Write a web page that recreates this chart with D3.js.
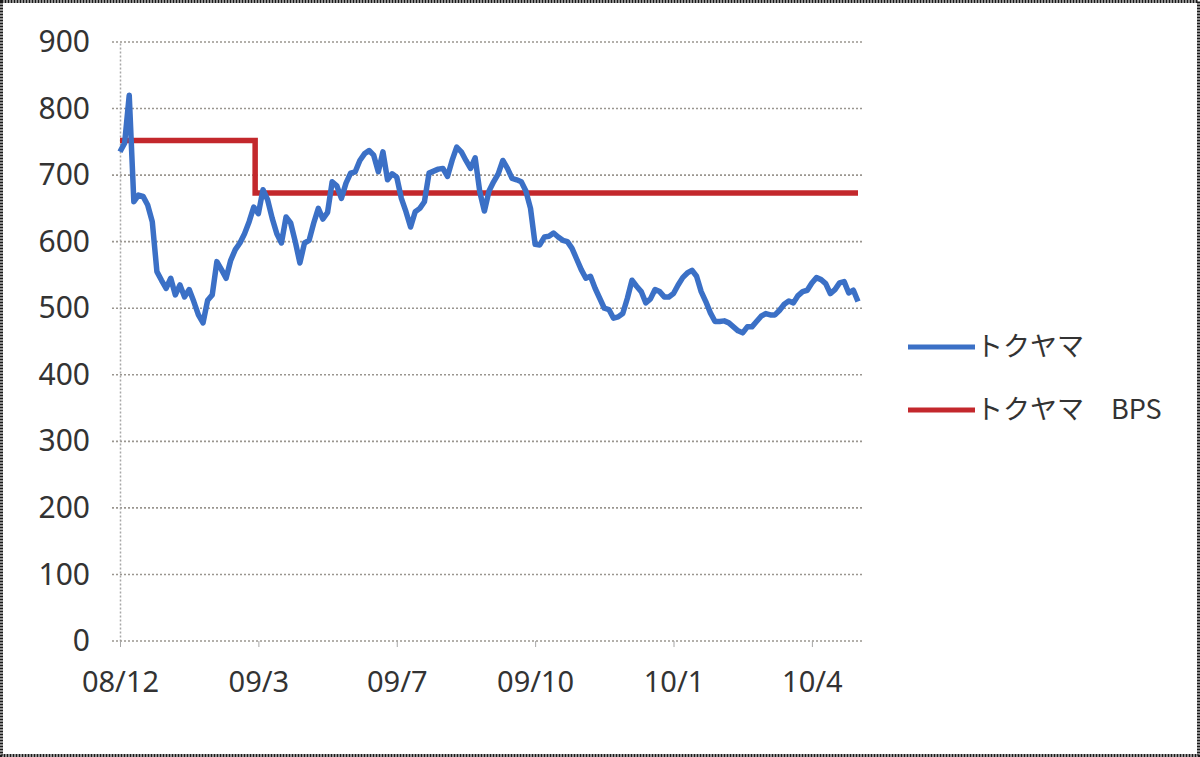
<html>
    <head>
        <meta charset="utf-8">
        <script src="https://d3js.org/d3.v7.min.js"></script>
        <style>
            body{ margin:0; background:#fff; }
            #svg{ background-color:#fff; display:block; }
            text{ font-family:"Noto Sans","Noto Sans CJK JP",sans-serif; fill:#333; }
        </style>
    </head>
    <body>
        <svg id="svg" width="1200" height="757"></svg>
        <script>
            // daily-ish price, one value per step on the category axis
            var price = [735,748,820,660,670,668,655,630,555,542,
                         530,545,520,535,517,528,510,490,478,512,
                         520,570,558,545,572,588,598,612,630,652,
                         642,678,663,635,612,598,637,628,600,568,
                         598,602,628,650,634,644,690,684,665,688,
                         703,705,722,732,737,730,705,735,693,702,
                         697,665,645,622,645,650,660,703,706,709,
                         710,698,722,742,735,722,710,726,675,646,
                         676,690,702,722,710,695,693,690,676,650,
                         596,595,607,608,613,607,602,600,590,574,
                         558,545,548,530,515,500,498,485,487,492,
                         515,542,533,525,508,514,528,525,517,517,
                         522,535,546,553,557,548,525,510,493,480,
                         480,481,478,472,466,463,472,472,480,488,
                         492,490,490,497,506,511,508,519,525,527,
                         538,546,543,537,522,528,538,540,523,527,510];
            // book value per share: changes at the given index
            var bpsStart = [0, 29.3];
            var bpsValue = [752, 673];
            var tickIndex = [0, 30, 60, 90, 120, 150];
            var tickLabel = ["08/12", "09/3", "09/7", "09/10", "10/1", "10/4"];
            var yTicks = [0,100,200,300,400,500,600,700,800,900];
            var seriesNames = ["トクヤマ", "トクヤマ　BPS"];
            var seriesColors = ["#3b70c6", "#c3282c"];

            var svg = d3.select("svg");
            var plot = {left:120, right:858, top:42, bottom:641};

            var x = d3.scaleLinear().domain([0, price.length - 1]).range([plot.left, plot.right]);
            var y = d3.scaleLinear().domain([0, 900]).range([plot.bottom, plot.top]);

            // outer frame
            svg.append("rect").attr("x",1.5).attr("y",1.5)
                .attr("width",1197).attr("height",754)
                .attr("fill","none").attr("stroke","#1a1a1a")
                .attr("stroke-width",3).attr("stroke-dasharray","2,1");

            // horizontal grid
            svg.append("g").selectAll("line").data(yTicks.filter(function(d){return d>0;}))
                .enter().append("line")
                .attr("x1",plot.left - 8).attr("x2",plot.right + 4)
                .attr("y1",function(d){return y(d);}).attr("y2",function(d){return y(d);})
                .attr("stroke","#9a9690").attr("stroke-width",1.6)
                .attr("stroke-dasharray","2,2");

            // axes
            var yAxis = d3.axisLeft(y).tickValues(yTicks).tickSize(0).tickPadding(30);
            var gy = svg.append("g").attr("transform","translate(" + plot.left + ",0)").call(yAxis);
            gy.select(".domain").attr("stroke","#a8a8a8").attr("stroke-width",1.5).attr("stroke-dasharray","2,2");
            gy.selectAll("text").attr("font-size",30).attr("fill","#333");

            var xAxis = d3.axisBottom(x).tickValues(tickIndex)
                .tickFormat(function(d,i){return tickLabel[i];})
                .tickSize(6).tickSizeOuter(0).tickPadding(24);
            var gx = svg.append("g").attr("transform","translate(0," + plot.bottom + ")").call(xAxis);
            gx.select(".domain").attr("d","M" + (plot.left - 8) + ",0H" + (plot.right + 4))
                .attr("stroke","#9a9690").attr("stroke-width",1.6).attr("stroke-dasharray","2,2");
            gx.selectAll(".tick line").attr("stroke","#a8a8a8");
            gx.selectAll("text").attr("font-size",29).attr("fill","#333");
            svg.selectAll(".tick text").style("font-family","'Noto Sans',sans-serif");

            // BPS step line
            var bpsPts = bpsStart.map(function(s,i){return [s, bpsValue[i]];});
            bpsPts.push([price.length - 1, bpsValue[bpsValue.length - 1]]);
            var stepLine = d3.line().x(function(d){return x(d[0]);}).y(function(d){return y(d[1]);})
                .curve(d3.curveStepAfter);
            svg.append("path").datum(bpsPts).attr("d",stepLine)
                .attr("fill","none").attr("stroke",seriesColors[1]).attr("stroke-width",5.5);

            // price line
            var priceLine = d3.line().x(function(d,i){return x(i);}).y(function(d){return y(d);});
            svg.append("path").datum(price).attr("d",priceLine)
                .attr("fill","none").attr("stroke",seriesColors[0]).attr("stroke-width",5.5)
                .attr("stroke-linejoin","round");

            // legend
            var legend = svg.append("g").selectAll("g").data(seriesNames).enter().append("g")
                .attr("transform",function(d,i){return "translate(908," + (347 + i*63) + ")";});
            legend.append("line").attr("x1",0).attr("x2",67).attr("y1",0).attr("y2",0)
                .attr("stroke",function(d,i){return seriesColors[i];}).attr("stroke-width",5);
            legend.append("text").attr("x",68).attr("y",0).attr("dy","0.35em")
                .attr("font-size",27)
                .style("font-family","'Noto Sans CJK JP',sans-serif")
                .text(function(d){return d;});
        </script>
    </body>
</html>
